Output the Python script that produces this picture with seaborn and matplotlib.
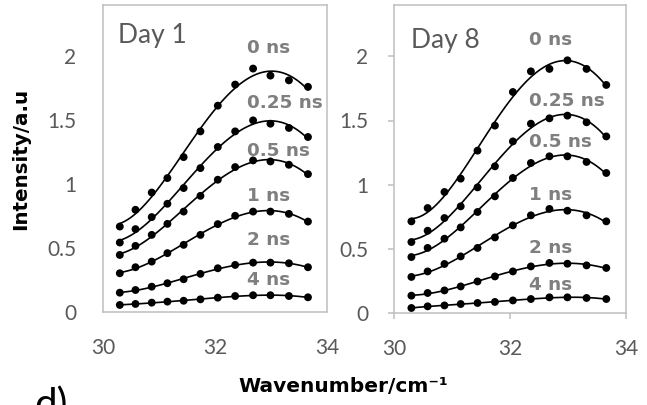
import numpy as np
import pandas as pd
import matplotlib
matplotlib.use("Agg")
import matplotlib.pyplot as plt
import seaborn as sns

# ---------------- data ----------------
wavenumber = [30.30, 30.58, 30.87, 31.15, 31.44, 31.74, 32.05, 32.36, 32.68, 32.99, 33.32, 33.66]
delays = ["0 ns", "0.25 ns", "0.5 ns", "1 ns", "2 ns", "4 ns"]
days = ["Day 1", "Day 8"]

day1_0ns   = [0.668, 0.799, 0.934, 1.047, 1.211, 1.412, 1.613, 1.778, 1.903, 1.848, 1.811, 1.760]
day1_025ns = [0.543, 0.648, 0.742, 0.846, 0.969, 1.125, 1.290, 1.412, 1.498, 1.472, 1.439, 1.368]
day1_05ns  = [0.446, 0.517, 0.603, 0.689, 0.785, 0.908, 1.034, 1.133, 1.185, 1.177, 1.151, 1.078]
day1_1ns   = [0.303, 0.350, 0.394, 0.460, 0.525, 0.603, 0.687, 0.752, 0.785, 0.785, 0.767, 0.707]
day1_2ns   = [0.151, 0.172, 0.198, 0.225, 0.256, 0.298, 0.342, 0.368, 0.386, 0.386, 0.381, 0.350]
day1_4ns   = [0.055, 0.063, 0.073, 0.081, 0.088, 0.099, 0.112, 0.125, 0.131, 0.131, 0.125, 0.115]

day8_0ns   = [0.714, 0.818, 0.943, 1.047, 1.265, 1.460, 1.722, 1.883, 1.902, 1.969, 1.902, 1.777]
day8_025ns = [0.553, 0.641, 0.740, 0.831, 0.979, 1.143, 1.337, 1.475, 1.517, 1.538, 1.486, 1.376]
day8_05ns  = [0.436, 0.507, 0.579, 0.667, 0.787, 0.909, 1.052, 1.169, 1.221, 1.221, 1.177, 1.091]
day8_1ns   = [0.281, 0.324, 0.382, 0.441, 0.507, 0.589, 0.683, 0.761, 0.811, 0.797, 0.761, 0.714]
day8_2ns   = [0.135, 0.156, 0.176, 0.207, 0.246, 0.285, 0.324, 0.363, 0.390, 0.384, 0.371, 0.351]
day8_4ns   = [0.039, 0.052, 0.059, 0.070, 0.078, 0.086, 0.098, 0.109, 0.122, 0.122, 0.117, 0.109]

x_ticks = [30, 32, 34]
x_tick_labels = ["30", "32", "34"]
y_ticks = [0, 0.5, 1, 1.5, 2]
y_tick_labels = ["0", "0.5", "1", "1.5", "2"]

series = {
    "Day 1": [day1_0ns, day1_025ns, day1_05ns, day1_1ns, day1_2ns, day1_4ns],
    "Day 8": [day8_0ns, day8_025ns, day8_05ns, day8_1ns, day8_2ns, day8_4ns],
}
rows = []
for day in days:
    for d, vals in zip(delays, series[day]):
        for xv, yv in zip(wavenumber, vals):
            rows.append((day, d, xv, yv))
df = pd.DataFrame(rows, columns=["day", "delay", "x", "y"])

# ---------------- layout / style ----------------
label_pos = {
    "Day 1": (32.58, [2.06, 1.63, 1.26, 0.91, 0.56, 0.25]),
    "Day 8": (32.32, [2.13, 1.65, 1.33, 0.92, 0.51, 0.22]),
}
day_pos = {"Day 1": (0.067, 0.90), "Day 8": (0.074, 0.885)}

sns.set_theme(style="white")
plt.rcParams["font.family"] = ["Lato", "DejaVu Sans"]
bold_family = ["DejaVu Sans"]

W, H = 647, 405
fig = plt.figure(figsize=(W / 100, H / 100), dpi=100)
ax1 = fig.add_axes([103 / W, 1 - 312 / H, (327 - 103) / W, (312 - 5) / H])
ax2 = fig.add_axes([394 / W, 1 - 313 / H, (626 - 394) / W, (313 - 5) / H])

grey_edge = "#bfbfbf"
tick_col = "#595959"
ann_col = "#7f7f7f"

for ax, day in zip([ax1, ax2], days):
    sub = df[df["day"] == day]
    for d in delays:
        s = sub[sub["delay"] == d]
        sns.regplot(data=s, x="x", y="y", order=4, ci=None, scatter=False,
                    truncate=True, ax=ax, line_kws=dict(color="black", lw=1.2))
    sns.scatterplot(data=sub, x="x", y="y", ax=ax, color="black", s=32,
                    edgecolor="none", zorder=3, legend=False)
    lx, lys = label_pos[day]
    for d, ly in zip(delays, lys):
        ax.text(lx, ly, d, ha="left", va="center", fontsize=13.2, fontweight="bold",
                color=ann_col, family=bold_family)
    dx, dy = day_pos[day]
    ax.text(dx, dy, day, transform=ax.transAxes, ha="left", va="center",
            fontsize=19, color=tick_col)

    ax.set_xlim(30, 34)
    ax.set_ylim(0, 2.4)
    ax.set_xticks(x_ticks)
    ax.set_xticklabels(x_tick_labels)
    ax.set_yticks(y_ticks)
    ax.set_yticklabels(y_tick_labels)
    ax.set_xlabel("")
    ax.set_ylabel("")
    for sp in ax.spines.values():
        sp.set_color(grey_edge)
        sp.set_linewidth(1.1)
    ax.grid(False)

ax1.tick_params(axis="both", length=0, labelsize=15, colors=tick_col, pad=19)
ax2.tick_params(axis="both", length=4.5, width=1.1, direction="out",
                color=grey_edge, labelcolor=tick_col, labelsize=15, pad=14,
                bottom=True, left=True)

fig.text(21 / W, 1 - 159 / H, "Intensity/a.u", rotation=90, ha="center", va="center",
         fontsize=14.3, fontweight="bold", color="black", family=bold_family)
fig.text(343 / W, 1 - 386 / H, "Wavenumber/cm\u207b\u00b9", ha="center", va="center",
         fontsize=14.5, fontweight="bold", color="black", family=bold_family)
fig.text(34 / W, 1 - 386 / H, "d)", ha="left", va="top", fontsize=29, color="black")

fig.savefig("out.png", dpi=100)
